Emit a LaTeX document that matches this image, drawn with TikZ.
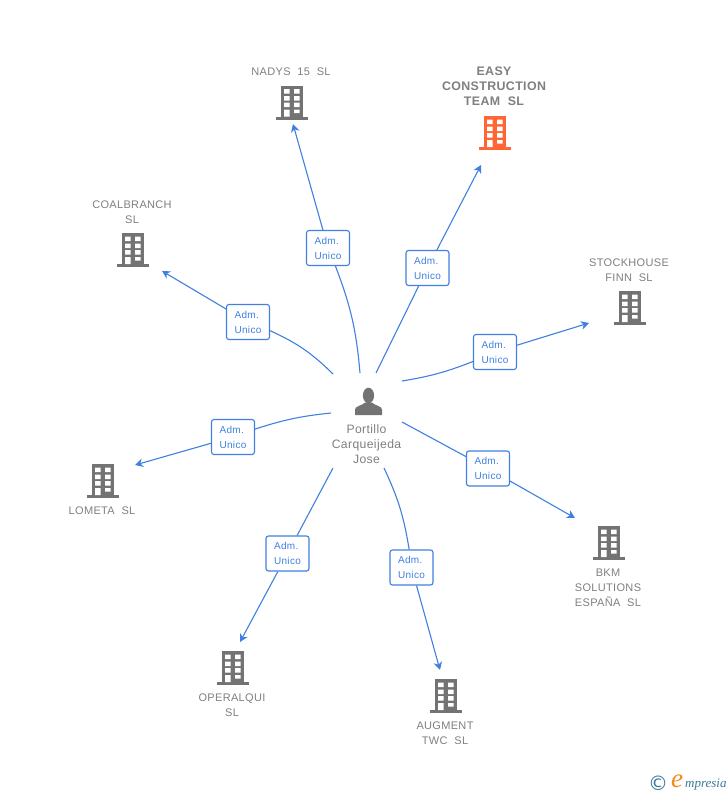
\documentclass[tikz,border=0pt]{standalone}
\usepackage{fontspec}
\setmainfont{Liberation Sans}
\newfontfamily\corpfont[LetterSpace=3,WordSpace=2]{Liberation Sans}
\newfontfamily\markfont{Liberation Serif}
\newfontfamily\ringfont{DejaVu Sans}
\usepackage{tikz}
\usetikzlibrary{positioning, arrows.meta}
\definecolor{linkblue}{HTML}{3F80E0}
\definecolor{icongrey}{HTML}{737373}
\definecolor{textgrey}{HTML}{808080}
\definecolor{hotorange}{HTML}{FF6633}
\definecolor{markblue}{HTML}{3B7A9A}
\definecolor{markorange}{HTML}{F28A1C}
\tikzset{
	labe/.style={
		draw=linkblue,
		fill=white,
		line width=1.1pt,
		rounded corners=2.5pt,
		minimum width=43pt,
		minimum height=35pt,
		inner sep=0pt,
		align=left,
		text=linkblue,
		font={\corpfont\fontsize{10}{15}\selectfont},
	},
	corp/.style={
		align=center,
		inner sep=0pt,
		xshift=-1pt,
		text=textgrey,
		font={\corpfont\fontsize{11}{15}\selectfont},
	},
	hotcorp/.style={
		corp,
		font={\corpfont\bfseries\fontsize{12.4}{15}\selectfont},
	},
	spoke/.style={
		draw=linkblue,
		line width=1.1pt,
	},
	arrowspoke/.style={
		spoke,
		-{Stealth[length=8pt,width=8.5pt,inset=2.5pt]},
	},
	pics/building/.style={
		code={
			\node (-box) [minimum width=32pt, minimum height=34pt, inner sep=0pt] {};
			\fill[#1] (-11,-17) rectangle (11,15);
			\fill[#1] (-16,14) rectangle (16,17);
			\fill[white]
				(-8,-13.5) rectangle (-2.5,-9)
				(2,-13.5) rectangle (7.5,-9)
				(-8,-6.5) rectangle (-2.5,-2)
				(2,-6.5) rectangle (7.5,-2)
				(-8,0) rectangle (-2.5,4.5)
				(2,0) rectangle (7.5,4.5)
				(-8,7) rectangle (-2.5,14)
				(2,7) rectangle (7.5,10.5);
		}
	},
	pics/person/.style={
		code={
			\node (-box) [minimum width=28pt, minimum height=28pt, inner sep=0pt] {};
			\fill[#1] (0,-6) ellipse (5.6 and 7.8);
			\fill[#1] (-13.5,13.5) -- (-13.5,8) .. controls (-13.5,4.5) and (-6,4) .. (-3.5,1) -- (3.5,1) .. controls (6,4) and (13.5,4.5) .. (13.5,8) -- (13.5,13.5) -- cycle;
		}
	},
}
\begin{document}
\begin{tikzpicture}[x=1pt,y=-1pt]
\useasboundingbox[fill=white] (0,0) rectangle (728,795);

% centre
\pic (jose) at (368.5,401.5) {person=icongrey};
\node(josename)[corp, font={\corpfont\fontsize{12.2}{15}\selectfont}, xshift=-1pt, below = 8.5pt of jose-box]{Portillo\\Carqueijeda\\Jose};

% companies
\pic (nadys) at (292,102.5) {building=icongrey};
\node(nadysname)[corp, above = 9.5pt of nadys-box]{NADYS 15 SL};

\pic (easy) at (495,133) {building=hotorange};
\node(easyname)[hotcorp, above = 10pt of easy-box]{EASY\\CONSTRUCTION\\TEAM SL};

\pic (coal) at (133,250) {building=icongrey};
\node(coalname)[corp, above = 9pt of coal-box]{COALBRANCH\\SL};

\pic (stock) at (630,308) {building=icongrey};
\node(stockname)[corp, above = 9pt of stock-box]{STOCKHOUSE\\FINN SL};

\pic (lometa) at (103,481) {building=icongrey};
\node(lometaname)[corp, below = 8pt of lometa-box]{LOMETA SL};

\pic (bkm) at (609,543) {building=icongrey};
\node(bkmname)[corp, below = 8.5pt of bkm-box]{BKM\\SOLUTIONS\\ESPAÑA SL};

\pic (augment) at (446,696) {building=icongrey};
\node(augmentname)[corp, below = 8pt of augment-box]{AUGMENT\\TWC SL};

\pic (operalqui) at (233,668) {building=icongrey};
\node(operalquiname)[corp, below = 8pt of operalqui-box]{OPERALQUI\\SL};

% boxes on the links
\node(adma)[labe] at (328,248) {Adm.\\Unico};
\node(admb)[labe] at (427.5,268) {Adm.\\Unico};
\node(admc)[labe] at (248,322) {Adm.\\Unico};
\node(admd)[labe] at (495,352) {Adm.\\Unico};
\node(adme)[labe] at (233,437) {Adm.\\Unico};
\node(admf)[labe] at (488,468.5) {Adm.\\Unico};
\node(admg)[labe] at (287.5,553.5) {Adm.\\Unico};
\node(admh)[labe] at (411.5,567.5) {Adm.\\Unico};

% links
\draw[spoke] ([shift={(-8.5,-28.5)}]jose-box.center) to[bend right=8] (adma);
\draw[arrowspoke] (adma) -- ([shift={(1,21.5)}]nadys-box.center);
\draw[spoke] ([shift={(7.5,-28.5)}]jose-box.center) -- (admb);
\draw[arrowspoke] (admb) -- ([shift={(-14,32)}]easy-box.center);
\draw[spoke] ([shift={(-35.5,-27.5)}]jose-box.center) to[bend right=10] (admc);
\draw[arrowspoke] (admc) -- ([shift={(29,21)}]coal-box.center);
\draw[spoke] ([shift={(33.5,-20.5)}]jose-box.center) to[bend right=6] (admd);
\draw[arrowspoke] (admd) -- ([shift={(-41,15)}]stock-box.center);
\draw[spoke] ([shift={(-37.5,11.5)}]jose-box.center) to[bend right=6] (adme);
\draw[arrowspoke] (adme) -- ([shift={(32,-16)}]lometa-box.center);
\draw[spoke] ([shift={(33.5,20.5)}]jose-box.center) -- (admf);
\draw[arrowspoke] (admf) -- ([shift={(-34,-25)}]bkm-box.center);
\draw[spoke] ([shift={(-35.5,66.5)}]jose-box.center) -- (admg);
\draw[arrowspoke] (admg) -- ([shift={(7,-26)}]operalqui-box.center);
\draw[spoke] ([shift={(15.5,66.5)}]jose-box.center) to[bend left=8] (admh);
\draw[arrowspoke] (admh) -- ([shift={(-6,-26)}]augment-box.center);

% watermark
\node(markc)[inner sep=0pt, text=markblue, font={\ringfont\fontsize{20}{20}\selectfont}] at (658,783.5) {©};
\node(marke)[inner sep=0pt, text=markorange, font={\markfont\itshape\fontsize{27}{27}\selectfont}] at (677,781) {e};
\node(markt)[inner sep=0pt, text=markblue, font={\markfont\itshape\fontsize{13}{13}\selectfont}, anchor=west] at (685,785) {mpresia};
\end{tikzpicture}
\end{document}
